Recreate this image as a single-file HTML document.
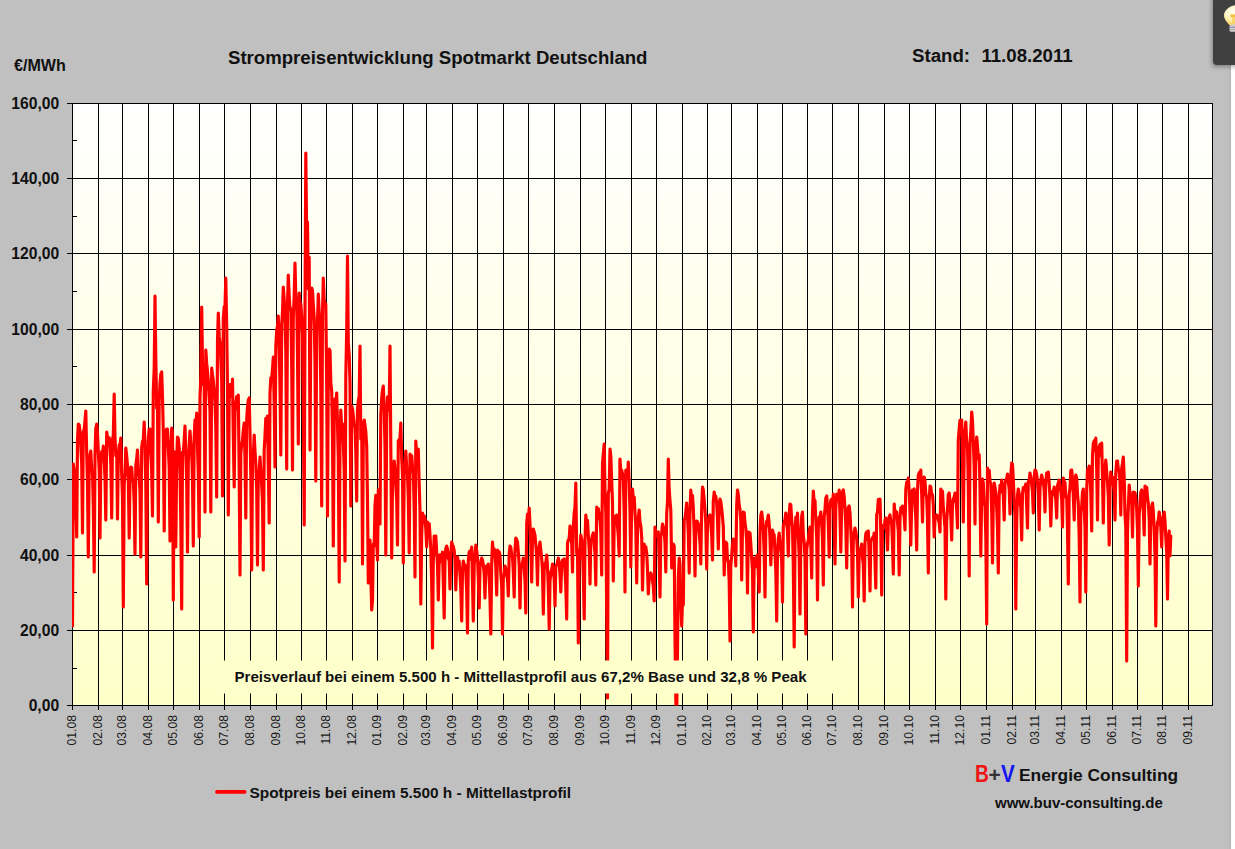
<!DOCTYPE html>
<html><head><meta charset="utf-8"><title>Strompreisentwicklung Spotmarkt Deutschland</title>
<style>
html,body{margin:0;padding:0}
body{width:1235px;height:849px;position:relative;overflow:hidden;background:#c0c0c0;font-family:"Liberation Sans",sans-serif;color:#111}
.t{position:absolute;white-space:nowrap;font-weight:bold;line-height:1}
.yl{position:absolute;left:0;width:59.2px;text-align:right;font-weight:bold;font-size:15.7px;line-height:16px;height:16px;color:#111}
.xl{position:absolute;font-size:12.2px;line-height:12px;height:12px;width:40px;text-align:right;color:#181818;transform-origin:0 0;transform:rotate(-90deg);white-space:nowrap}
#strip{position:absolute;left:1231px;top:64px;width:4px;height:785px;background:#fff}
#edge{position:absolute;left:1228px;top:64px;width:3px;height:785px;background:linear-gradient(to right,#c0c0c0,#b4b4b4)}
#panel{position:absolute;left:1213px;top:-4px;width:30px;height:68.6px;background:#404040;border-radius:0 0 0 4px;box-shadow:-1px 2px 4px rgba(0,0,0,.32)}
</style></head><body>

<svg width="1235" height="849" viewBox="0 0 1235 849" style="position:absolute;left:0;top:0">
<defs><linearGradient id="pg" x1="0" y1="0" x2="0" y2="1"><stop offset="0" stop-color="#ffffff"/><stop offset="1" stop-color="#ffffc9"/></linearGradient><clipPath id="pc"><rect x="72" y="103" width="1141" height="602.6"/></clipPath><radialGradient id="bg" cx="0.35" cy="0.3" r="0.8"><stop offset="0" stop-color="#fffdf0"/><stop offset="0.55" stop-color="#fff0b0"/><stop offset="1" stop-color="#f2c040"/></radialGradient></defs>
<rect x="72" y="103" width="1141" height="602" fill="url(#pg)"/>
<g stroke="#000" stroke-width="1" shape-rendering="crispEdges"><line x1="72.5" y1="103" x2="72.5" y2="710"/><line x1="98.5" y1="103" x2="98.5" y2="710"/><line x1="122.5" y1="103" x2="122.5" y2="710"/><line x1="148.5" y1="103" x2="148.5" y2="710"/><line x1="173.5" y1="103" x2="173.5" y2="710"/><line x1="199.5" y1="103" x2="199.5" y2="710"/><line x1="224.5" y1="103" x2="224.5" y2="710"/><line x1="250.5" y1="103" x2="250.5" y2="710"/><line x1="276.5" y1="103" x2="276.5" y2="710"/><line x1="301.5" y1="103" x2="301.5" y2="710"/><line x1="326.5" y1="103" x2="326.5" y2="710"/><line x1="352.5" y1="103" x2="352.5" y2="710"/><line x1="377.5" y1="103" x2="377.5" y2="710"/><line x1="403.5" y1="103" x2="403.5" y2="710"/><line x1="426.5" y1="103" x2="426.5" y2="710"/><line x1="452.5" y1="103" x2="452.5" y2="710"/><line x1="477.5" y1="103" x2="477.5" y2="710"/><line x1="503.5" y1="103" x2="503.5" y2="710"/><line x1="528.5" y1="103" x2="528.5" y2="710"/><line x1="554.5" y1="103" x2="554.5" y2="710"/><line x1="580.5" y1="103" x2="580.5" y2="710"/><line x1="605.5" y1="103" x2="605.5" y2="710"/><line x1="631.5" y1="103" x2="631.5" y2="710"/><line x1="656.5" y1="103" x2="656.5" y2="710"/><line x1="682.5" y1="103" x2="682.5" y2="710"/><line x1="707.5" y1="103" x2="707.5" y2="710"/><line x1="731.5" y1="103" x2="731.5" y2="710"/><line x1="757.5" y1="103" x2="757.5" y2="710"/><line x1="782.5" y1="103" x2="782.5" y2="710"/><line x1="807.5" y1="103" x2="807.5" y2="710"/><line x1="832.5" y1="103" x2="832.5" y2="710"/><line x1="858.5" y1="103" x2="858.5" y2="710"/><line x1="884.5" y1="103" x2="884.5" y2="710"/><line x1="909.5" y1="103" x2="909.5" y2="710"/><line x1="935.5" y1="103" x2="935.5" y2="710"/><line x1="960.5" y1="103" x2="960.5" y2="710"/><line x1="986.5" y1="103" x2="986.5" y2="710"/><line x1="1012.5" y1="103" x2="1012.5" y2="710"/><line x1="1035.5" y1="103" x2="1035.5" y2="710"/><line x1="1061.5" y1="103" x2="1061.5" y2="710"/><line x1="1086.5" y1="103" x2="1086.5" y2="710"/><line x1="1112.5" y1="103" x2="1112.5" y2="710"/><line x1="1137.5" y1="103" x2="1137.5" y2="710"/><line x1="1162.5" y1="103" x2="1162.5" y2="710"/><line x1="1188.5" y1="103" x2="1188.5" y2="710"/><line x1="67" y1="103.5" x2="1213" y2="103.5"/><line x1="67" y1="178.5" x2="1213" y2="178.5"/><line x1="67" y1="253.5" x2="1213" y2="253.5"/><line x1="67" y1="329.5" x2="1213" y2="329.5"/><line x1="67" y1="404.5" x2="1213" y2="404.5"/><line x1="67" y1="479.5" x2="1213" y2="479.5"/><line x1="67" y1="555.5" x2="1213" y2="555.5"/><line x1="67" y1="630.5" x2="1213" y2="630.5"/><line x1="67" y1="705.5" x2="1213" y2="705.5"/><line x1="72" y1="140.5" x2="77" y2="140.5"/><line x1="72" y1="216.5" x2="77" y2="216.5"/><line x1="72" y1="291.5" x2="77" y2="291.5"/><line x1="72" y1="366.5" x2="77" y2="366.5"/><line x1="72" y1="442.5" x2="77" y2="442.5"/><line x1="72" y1="517.5" x2="77" y2="517.5"/><line x1="72" y1="592.5" x2="77" y2="592.5"/><line x1="72" y1="668.5" x2="77" y2="668.5"/></g><line x1="1212.5" y1="103" x2="1212.5" y2="706" stroke="#000" stroke-width="1" shape-rendering="crispEdges"/>
<polyline clip-path="url(#pc)" fill="none" stroke="#ff0000" stroke-width="3.15" stroke-linejoin="round" stroke-linecap="round" points="72.5,626.0 73.3,464.0 74.2,470.0 75.0,480.0 75.8,500.0 76.7,537.0 77.5,440.4 78.3,424.0 79.2,425.1 80.0,430.8 80.8,446.8 81.7,463.5 82.5,533.0 83.3,432.0 84.2,429.6 85.0,420.9 85.8,411.0 86.7,452.9 87.5,483.2 88.3,557.0 89.2,468.0 90.0,454.9 90.8,451.0 91.7,470.9 92.5,472.2 93.3,506.1 94.2,572.0 95.0,456.1 95.8,428.3 96.7,424.0 97.5,433.0 98.3,452.0 99.2,469.2 100.0,538.0 100.8,464.7 101.7,451.7 102.5,456.2 103.3,446.0 104.2,459.6 105.0,478.2 105.8,520.0 106.7,432.0 107.5,437.3 108.3,444.1 109.2,437.7 110.0,449.9 110.8,463.6 111.7,518.0 112.5,439.3 113.3,435.4 114.2,394.0 115.0,437.8 115.8,455.6 116.7,452.1 117.5,519.0 118.3,455.9 119.2,444.8 120.0,447.5 120.8,438.0 121.7,474.6 122.5,497.3 123.3,607.0 124.2,484.7 125.0,473.3 125.8,448.0 126.7,456.1 127.5,466.4 128.3,479.0 129.2,538.0 130.0,478.6 130.8,467.0 131.7,467.6 132.5,480.7 133.3,481.6 134.2,502.7 135.0,554.0 135.8,465.7 136.7,458.6 137.5,450.0 138.3,468.6 139.2,478.3 140.0,491.7 140.8,557.0 141.7,447.7 142.5,441.4 143.3,440.1 144.2,422.0 145.0,450.3 145.8,483.9 146.7,584.0 147.5,463.5 148.3,437.8 149.2,429.1 150.0,429.0 150.8,446.5 151.7,473.5 152.5,516.0 153.3,391.1 154.2,367.8 155.0,296.0 155.8,358.7 156.7,408.1 157.5,408.4 158.3,522.0 159.2,401.2 160.0,383.4 160.8,374.2 161.7,372.0 162.5,397.2 163.3,432.0 164.2,531.0 165.0,448.1 165.8,431.8 166.7,429.0 167.5,429.0 168.3,447.4 169.2,467.6 170.0,541.0 170.8,453.5 171.7,428.0 172.5,432.0 173.3,600.0 174.2,451.9 175.0,486.6 175.8,547.0 176.7,459.6 177.5,437.0 178.3,438.3 179.2,448.1 180.0,471.1 180.8,521.1 181.7,609.0 182.5,452.2 183.3,454.0 184.2,439.5 185.0,426.0 185.8,454.5 186.7,480.8 187.5,552.0 188.3,462.6 189.2,445.2 190.0,431.0 190.8,442.7 191.7,450.9 192.5,481.1 193.3,546.0 194.2,437.8 195.0,419.8 195.8,428.1 196.7,413.0 197.5,446.4 198.3,473.4 199.2,537.0 200.0,397.1 200.8,378.9 201.7,307.0 202.5,363.2 203.3,383.7 204.2,386.3 205.0,512.0 205.8,350.0 206.7,363.4 207.5,371.3 208.3,380.5 209.2,396.0 210.0,411.5 210.8,512.0 211.7,368.0 212.5,375.0 213.3,380.6 214.2,390.7 215.0,402.5 215.8,427.0 216.7,497.0 217.5,340.9 218.3,313.0 219.2,336.4 220.0,342.2 220.8,359.7 221.7,381.1 222.5,496.0 223.3,318.7 224.2,306.8 225.0,307.7 225.8,278.0 226.7,326.9 227.5,389.5 228.3,515.0 229.2,400.5 230.0,384.6 230.8,396.2 231.7,396.6 232.5,379.0 233.3,434.8 234.2,487.0 235.0,412.4 235.8,403.9 236.7,396.7 237.5,404.4 238.3,395.0 239.2,473.3 240.0,575.0 240.8,453.5 241.7,444.6 242.5,440.6 243.3,430.6 244.2,423.0 245.0,459.4 245.8,518.0 246.7,419.2 247.5,407.4 248.3,400.2 249.2,398.0 250.0,432.3 250.8,474.5 251.7,570.0 252.5,461.8 253.3,455.0 254.2,435.0 255.0,451.2 255.8,464.0 256.7,489.5 257.5,565.0 258.3,472.2 259.2,471.2 260.0,457.0 260.8,470.1 261.7,485.4 262.5,502.1 263.3,570.0 264.2,449.5 265.0,436.0 265.8,418.3 266.7,429.7 267.5,416.0 268.3,467.3 269.2,523.0 270.0,393.3 270.8,378.0 271.7,378.2 272.5,369.3 273.3,357.0 274.2,404.5 275.0,467.0 275.8,346.7 276.7,330.3 277.5,326.1 278.3,316.0 279.2,350.5 280.0,386.8 280.8,455.0 281.7,323.7 282.5,312.5 283.3,287.0 284.2,299.6 285.0,317.4 285.8,351.3 286.7,469.0 287.5,304.1 288.3,275.0 289.2,296.3 290.0,309.2 290.8,308.5 291.7,364.5 292.5,470.0 293.3,317.6 294.2,295.2 295.0,263.0 295.8,296.2 296.7,300.2 297.5,356.8 298.3,444.0 299.2,293.0 300.0,305.1 300.8,303.9 301.7,315.6 302.5,334.2 303.3,402.0 304.2,525.0 305.0,315.8 305.8,153.0 306.7,235.8 307.5,222.0 308.3,288.8 309.2,257.4 310.0,450.0 310.8,328.6 311.7,288.0 312.5,290.4 313.3,304.8 314.2,318.0 315.0,363.0 315.8,481.0 316.7,331.2 317.5,321.6 318.3,294.0 319.2,312.3 320.0,330.2 320.8,387.9 321.7,506.0 322.5,312.8 323.3,278.0 324.2,300.0 325.0,304.1 325.8,304.0 326.7,386.1 327.5,516.0 328.3,374.3 329.2,349.0 330.0,350.6 330.8,382.6 331.7,391.1 332.5,435.6 333.3,546.0 334.2,420.2 335.0,398.8 335.8,404.3 336.7,393.0 337.5,424.2 338.3,459.0 339.2,582.0 340.0,441.6 340.8,410.0 341.7,428.3 342.5,423.7 343.3,443.2 344.2,470.8 345.0,561.0 345.8,376.5 346.7,329.9 347.5,256.0 348.3,342.8 349.2,355.1 350.0,383.1 350.8,506.0 351.7,406.0 352.5,409.0 353.3,415.7 354.2,424.3 355.0,427.9 355.8,451.7 356.7,501.0 357.5,409.2 358.3,401.3 359.2,395.4 360.0,346.0 360.8,439.0 361.7,422.3 362.5,564.0 363.3,441.6 364.2,420.0 365.0,425.2 365.8,431.9 366.7,446.4 367.5,501.0 368.3,583.0 369.2,547.7 370.0,540.0 370.8,575.0 371.7,610.0 372.5,600.0 373.3,543.9 374.2,546.0 375.0,505.5 375.8,495.4 376.7,540.0 377.5,560.0 378.3,490.0 379.2,501.6 380.0,524.0 380.8,414.5 381.7,398.5 382.5,389.9 383.3,386.0 384.2,411.5 385.0,446.2 385.8,555.0 386.7,422.5 387.5,396.8 388.3,400.9 389.2,410.1 390.0,346.0 390.8,446.7 391.7,558.0 392.5,484.3 393.3,474.9 394.2,461.0 395.0,469.0 395.8,485.2 396.7,500.5 397.5,545.0 398.3,440.8 399.2,439.7 400.0,438.2 400.8,423.0 401.7,458.4 402.5,474.1 403.3,563.0 404.2,474.6 405.0,466.3 405.8,451.0 406.7,467.9 407.5,474.6 408.3,498.2 409.2,553.0 410.0,454.0 410.8,456.4 411.7,455.8 412.5,466.4 413.3,474.3 414.2,508.2 415.0,577.0 415.8,441.0 416.7,456.7 417.5,450.3 418.3,449.2 419.2,483.7 420.0,511.2 420.8,604.0 421.7,534.1 422.5,513.0 423.3,522.4 424.2,515.9 425.0,518.5 425.8,529.0 426.7,547.0 427.5,522.0 428.3,525.9 429.2,523.7 430.0,535.0 430.8,549.3 431.7,582.2 432.5,648.0 433.3,561.8 434.2,536.0 435.0,538.3 435.8,536.0 436.7,552.3 437.5,564.3 438.3,600.0 439.2,559.1 440.0,554.8 440.8,556.5 441.7,561.7 442.5,552.0 443.3,580.6 444.2,618.0 445.0,560.8 445.8,548.6 446.7,546.0 447.5,549.3 448.3,558.3 449.2,560.8 450.0,589.0 450.8,554.0 451.7,542.0 452.5,545.0 453.3,546.2 454.2,550.6 455.0,560.1 455.8,590.0 456.7,562.3 457.5,557.0 458.3,561.4 459.2,561.4 460.0,573.9 460.8,589.0 461.7,621.0 462.5,571.3 463.3,561.0 464.2,565.1 465.0,564.9 465.8,571.8 466.7,591.3 467.5,633.0 468.3,560.7 469.2,552.0 470.0,550.8 470.8,559.4 471.7,547.0 472.5,583.3 473.3,621.0 474.2,565.5 475.0,554.1 475.8,545.0 476.7,550.7 477.5,557.7 478.3,577.7 479.2,608.0 480.0,567.5 480.8,562.0 481.7,558.0 482.5,560.3 483.3,564.6 484.2,573.7 485.0,598.0 485.8,569.9 486.7,565.9 487.5,566.4 488.3,564.0 489.2,578.2 490.0,598.9 490.8,634.0 491.7,563.0 492.5,542.0 493.3,554.1 494.2,548.7 495.0,555.3 495.8,567.0 496.7,595.0 497.5,550.0 498.3,555.0 499.2,551.8 500.0,554.8 500.8,573.5 501.7,585.7 502.5,634.0 503.3,578.4 504.2,574.4 505.0,566.0 505.8,568.6 506.7,573.3 507.5,579.2 508.3,596.0 509.2,554.2 510.0,546.0 510.8,547.5 511.7,555.0 512.5,557.2 513.3,571.7 514.2,597.0 515.0,550.0 515.8,538.0 516.7,539.6 517.5,542.4 518.3,551.9 519.2,564.8 520.0,608.0 520.8,569.0 521.7,565.2 522.5,563.2 523.3,558.0 524.2,569.4 525.0,580.4 525.8,613.0 526.7,523.6 527.5,514.2 528.3,522.2 529.2,508.0 530.0,524.3 530.8,544.7 531.7,582.0 532.5,538.4 533.3,529.0 534.2,532.0 535.0,535.3 535.8,544.9 536.7,556.8 537.5,585.0 538.3,548.2 539.2,547.1 540.0,542.0 540.8,550.4 541.7,558.7 542.5,571.6 543.3,614.0 544.2,570.1 545.0,563.2 545.8,563.0 546.7,555.0 547.5,567.2 548.3,587.1 549.2,629.0 550.0,581.7 550.8,571.9 551.7,569.9 552.5,564.0 553.3,573.0 554.2,578.6 555.0,606.0 555.8,566.3 556.7,565.1 557.5,562.3 558.3,558.0 559.2,563.7 560.0,573.5 560.8,592.0 561.7,564.1 562.5,560.0 563.3,561.4 564.2,559.0 565.0,571.3 565.8,585.9 566.7,619.0 567.5,542.9 568.3,540.0 569.2,538.5 570.0,526.0 570.8,538.6 571.7,543.6 572.5,572.0 573.3,527.0 574.2,513.1 575.0,506.4 575.8,483.0 576.7,553.4 577.5,549.5 578.3,643.0 579.2,560.2 580.0,551.1 580.8,535.0 581.7,539.6 582.5,551.6 583.3,573.9 584.2,619.0 585.0,541.2 585.8,515.0 586.7,522.4 587.5,520.4 588.3,534.7 589.2,548.6 590.0,584.0 590.8,541.7 591.7,539.4 592.5,535.1 593.3,533.0 594.2,544.4 595.0,552.8 595.8,585.0 596.7,507.0 597.5,518.9 598.3,508.6 599.2,514.1 600.0,519.2 600.8,531.9 601.7,575.0 602.5,463.4 603.3,453.8 604.2,444.0 605.0,491.2 605.8,512.7 606.7,612.0 607.5,698.0 608.3,493.3 609.2,489.3 610.0,449.0 610.8,456.2 611.7,481.1 612.5,502.8 613.3,581.0 614.2,525.8 615.0,516.3 615.8,517.6 616.7,515.0 617.5,526.6 618.3,536.1 619.2,556.0 620.0,459.0 620.8,472.1 621.7,470.2 622.5,473.7 623.3,479.9 624.2,513.1 625.0,592.0 625.8,470.0 626.7,471.2 627.5,478.3 628.3,462.0 629.2,483.8 630.0,512.2 630.8,567.0 631.7,500.3 632.5,489.0 633.3,499.0 634.2,497.1 635.0,512.9 635.8,526.7 636.7,583.0 637.5,530.0 638.3,517.8 639.2,510.0 640.0,522.0 640.8,525.5 641.7,537.3 642.5,590.0 643.3,556.3 644.2,544.0 645.0,550.1 645.8,546.7 646.7,553.1 647.5,569.6 648.3,594.0 649.2,577.1 650.0,574.2 650.8,573.0 651.7,576.3 652.5,580.8 653.3,586.6 654.2,601.0 655.0,527.0 655.8,536.5 656.7,533.3 657.5,533.7 658.3,532.0 659.2,560.7 660.0,597.0 660.8,536.2 661.7,533.2 662.5,524.0 663.3,526.8 664.2,531.4 665.0,543.1 665.8,572.0 666.7,513.7 667.5,501.7 668.3,459.0 669.2,489.7 670.0,500.8 670.8,510.0 671.7,568.0 672.5,548.1 673.3,544.0 674.2,546.1 675.0,640.0 675.8,700.0 676.7,716.0 677.5,650.0 678.3,579.1 679.2,558.0 680.0,564.5 680.8,600.0 681.7,626.0 682.5,600.0 683.3,605.0 684.2,520.3 685.0,518.4 685.8,511.7 686.7,503.0 687.5,517.4 688.3,533.2 689.2,573.0 690.0,511.0 690.8,490.0 691.7,501.5 692.5,495.5 693.3,508.6 694.2,532.3 695.0,576.0 695.8,529.0 696.7,521.0 697.5,521.9 698.3,524.3 699.2,533.3 700.0,542.8 700.8,564.0 701.7,507.1 702.5,487.0 703.3,489.8 704.2,500.0 705.0,510.2 705.8,523.7 706.7,569.0 707.5,524.2 708.3,518.9 709.2,516.1 710.0,515.0 710.8,523.4 711.7,535.6 712.5,560.0 713.3,501.6 714.2,492.0 715.0,498.5 715.8,496.3 716.7,503.0 717.5,519.5 718.3,549.0 719.2,506.4 720.0,499.0 720.8,501.8 721.7,508.7 722.5,517.2 723.3,527.1 724.2,575.0 725.0,548.5 725.8,542.0 726.7,543.4 727.5,560.2 728.3,561.2 729.2,582.0 730.0,641.0 730.8,565.6 731.7,555.3 732.5,544.2 733.3,539.0 734.2,545.8 735.0,548.2 735.8,566.0 736.7,505.1 737.5,490.0 738.3,494.3 739.2,505.6 740.0,509.3 740.8,520.8 741.7,580.0 742.5,527.6 743.3,512.0 744.2,512.8 745.0,523.1 745.8,528.4 746.7,541.7 747.5,593.0 748.3,532.0 749.2,541.1 750.0,532.9 750.8,543.9 751.7,558.3 752.5,569.6 753.3,632.0 754.2,558.0 755.0,567.1 755.8,560.2 756.7,557.1 757.5,555.0 758.3,573.6 759.2,592.0 760.0,532.4 760.8,515.4 761.7,512.0 762.5,518.9 763.3,529.6 764.2,553.6 765.0,597.0 765.8,529.0 766.7,521.2 767.5,520.9 768.3,515.0 769.2,523.4 770.0,538.5 770.8,565.0 771.7,535.1 772.5,530.0 773.3,533.7 774.2,535.0 775.0,554.3 775.8,570.8 776.7,621.0 777.5,553.0 778.3,538.5 779.2,533.0 780.0,542.1 780.8,547.5 781.7,562.0 782.5,602.0 783.3,525.8 784.2,522.5 785.0,519.1 785.8,513.0 786.7,524.0 787.5,531.2 788.3,556.0 789.2,514.7 790.0,504.0 790.8,504.9 791.7,519.8 792.5,527.3 793.3,565.8 794.2,647.0 795.0,543.7 795.8,517.2 796.7,526.8 797.5,513.0 798.3,535.4 799.2,556.5 800.0,614.0 800.8,539.9 801.7,516.0 802.5,512.0 803.3,535.1 804.2,542.8 805.0,557.7 805.8,634.0 806.7,549.3 807.5,543.5 808.3,540.7 809.2,530.7 810.0,527.0 810.8,544.9 811.7,578.0 812.5,512.4 813.3,491.0 814.2,501.9 815.0,500.6 815.8,519.8 816.7,537.9 817.5,600.0 818.3,526.9 819.2,517.0 820.0,518.2 820.8,512.0 821.7,523.3 822.5,538.9 823.3,585.0 824.2,516.9 825.0,508.9 825.8,498.1 826.7,496.0 827.5,506.1 828.3,523.7 829.2,557.0 830.0,510.5 830.8,500.2 831.7,499.1 832.5,506.1 833.3,494.0 834.2,525.7 835.0,564.0 835.8,508.6 836.7,494.2 837.5,500.3 838.3,498.1 839.2,490.0 840.0,516.0 840.8,552.0 841.7,505.1 842.5,491.7 843.3,490.0 844.2,496.7 845.0,508.7 845.8,524.7 846.7,568.0 847.5,517.4 848.3,507.3 849.2,506.0 850.0,513.2 850.8,529.9 851.7,549.7 852.5,607.0 853.3,540.5 854.2,532.1 855.0,528.0 855.8,531.7 856.7,538.4 857.5,552.8 858.3,597.0 859.2,553.1 860.0,549.4 860.8,548.4 861.7,544.0 862.5,557.5 863.3,564.8 864.2,601.0 865.0,543.2 865.8,533.9 866.7,531.9 867.5,539.4 868.3,531.0 869.2,555.7 870.0,591.0 870.8,541.2 871.7,539.4 872.5,537.6 873.3,538.4 874.2,533.0 875.0,561.0 875.8,588.0 876.7,514.6 877.5,512.0 878.3,499.5 879.2,510.9 880.0,499.0 880.8,532.6 881.7,595.0 882.5,528.9 883.3,525.5 884.2,528.1 885.0,520.2 885.8,518.0 886.7,531.8 887.5,550.0 888.3,523.9 889.2,516.6 890.0,515.0 890.8,520.4 891.7,524.3 892.5,543.4 893.3,574.0 894.2,504.0 895.0,513.7 895.8,511.3 896.7,512.2 897.5,522.0 898.3,531.0 899.2,575.0 900.0,517.9 900.8,507.8 901.7,509.2 902.5,506.0 903.3,511.9 904.2,517.2 905.0,530.0 905.8,489.3 906.7,482.2 907.5,483.7 908.3,478.0 909.2,490.5 910.0,512.4 910.8,545.0 911.7,503.7 912.5,490.2 913.3,491.0 914.2,489.0 915.0,504.5 915.8,517.9 916.7,550.0 917.5,491.1 918.3,475.3 919.2,472.7 920.0,479.2 920.8,470.0 921.7,493.9 922.5,522.0 923.3,486.3 924.2,477.0 925.0,481.4 925.8,493.3 926.7,497.3 927.5,519.5 928.3,573.0 929.2,500.8 930.0,486.0 930.8,486.9 931.7,495.1 932.5,494.7 933.3,504.3 934.2,537.0 935.0,519.1 935.8,515.9 936.7,515.0 937.5,515.9 938.3,519.2 939.2,522.9 940.0,532.0 940.8,489.0 941.7,493.4 942.5,491.2 943.3,507.1 944.2,518.1 945.0,527.7 945.8,599.0 946.7,521.4 947.5,509.1 948.3,494.6 949.2,493.0 950.0,500.8 950.8,516.2 951.7,540.0 952.5,503.8 953.3,499.4 954.2,497.2 955.0,493.0 955.8,498.7 956.7,509.7 957.5,528.0 958.3,439.9 959.2,428.6 960.0,420.3 960.8,428.8 961.7,420.0 962.5,461.4 963.3,522.0 964.2,449.5 965.0,431.1 965.8,422.0 966.7,443.0 967.5,445.8 968.3,486.5 969.2,576.0 970.0,442.9 970.8,431.5 971.7,412.0 972.5,421.0 973.3,442.3 974.2,466.6 975.0,524.0 975.8,449.2 976.7,437.0 977.5,446.3 978.3,459.2 979.2,454.9 980.0,488.0 980.8,556.0 981.7,491.8 982.5,479.0 983.3,482.7 984.2,503.1 985.0,506.0 985.8,535.7 986.7,624.0 987.5,468.0 988.3,482.0 989.2,470.4 990.0,481.2 990.8,483.3 991.7,512.2 992.5,563.0 993.3,501.2 994.2,483.0 995.0,487.5 995.8,492.5 996.7,507.7 997.5,528.0 998.3,573.0 999.2,495.7 1000.0,485.3 1000.8,491.7 1001.7,480.0 1002.5,488.1 1003.3,495.3 1004.2,520.0 1005.0,483.9 1005.8,479.8 1006.7,478.8 1007.5,474.0 1008.3,482.0 1009.2,488.7 1010.0,514.0 1010.8,474.9 1011.7,463.0 1012.5,464.2 1013.3,479.3 1014.2,500.7 1015.0,516.0 1015.8,609.0 1016.7,520.7 1017.5,495.4 1018.3,489.0 1019.2,493.7 1020.0,501.7 1020.8,507.8 1021.7,540.0 1022.5,493.8 1023.3,487.7 1024.2,488.1 1025.0,487.2 1025.8,484.0 1026.7,506.7 1027.5,528.0 1028.3,481.5 1029.2,481.5 1030.0,473.0 1030.8,477.2 1031.7,484.5 1032.5,491.9 1033.3,513.0 1034.2,477.2 1035.0,470.0 1035.8,470.6 1036.7,474.7 1037.5,482.3 1038.3,494.7 1039.2,530.0 1040.0,488.0 1040.8,480.0 1041.7,475.0 1042.5,479.2 1043.3,481.3 1044.2,490.3 1045.0,512.0 1045.8,482.7 1046.7,473.0 1047.5,475.2 1048.3,472.0 1049.2,483.3 1050.0,497.4 1050.8,526.0 1051.7,496.7 1052.5,491.6 1053.3,491.7 1054.2,487.0 1055.0,494.4 1055.8,499.3 1056.7,518.0 1057.5,485.8 1058.3,483.0 1059.2,480.0 1060.0,487.0 1060.8,491.2 1061.7,499.6 1062.5,527.0 1063.3,478.0 1064.2,481.8 1065.0,482.6 1065.8,497.1 1066.7,496.6 1067.5,528.9 1068.3,584.0 1069.2,493.8 1070.0,487.8 1070.8,470.6 1071.7,470.0 1072.5,478.6 1073.3,495.5 1074.2,520.0 1075.0,481.9 1075.8,475.0 1076.7,478.4 1077.5,494.1 1078.3,503.2 1079.2,537.1 1080.0,602.0 1080.8,511.3 1081.7,506.3 1082.5,492.3 1083.3,489.0 1084.2,510.1 1085.0,526.3 1085.8,592.0 1086.7,489.9 1087.5,469.5 1088.3,470.8 1089.2,466.0 1090.0,475.9 1090.8,493.0 1091.7,531.0 1092.5,455.6 1093.3,443.3 1094.2,440.9 1095.0,450.6 1095.8,438.0 1096.7,469.1 1097.5,520.0 1098.3,458.0 1099.2,446.8 1100.0,444.4 1100.8,455.7 1101.7,443.0 1102.5,477.0 1103.3,523.0 1104.2,470.8 1105.0,469.8 1105.8,460.0 1106.7,471.9 1107.5,482.5 1108.3,496.1 1109.2,545.0 1110.0,487.8 1110.8,472.0 1111.7,480.5 1112.5,476.8 1113.3,484.9 1114.2,491.6 1115.0,520.0 1115.8,472.8 1116.7,461.0 1117.5,461.0 1118.3,469.2 1119.2,471.2 1120.0,482.3 1120.8,515.0 1121.7,468.6 1122.5,463.3 1123.3,457.0 1124.2,477.6 1125.0,514.1 1125.8,528.5 1126.7,661.0 1127.5,532.0 1128.3,507.8 1129.2,485.0 1130.0,493.7 1130.8,497.4 1131.7,502.8 1132.5,537.0 1133.3,492.0 1134.2,494.5 1135.0,492.6 1135.8,498.6 1136.7,509.2 1137.5,529.8 1138.3,586.0 1139.2,515.6 1140.0,502.6 1140.8,492.3 1141.7,490.0 1142.5,500.6 1143.3,510.7 1144.2,535.0 1145.0,486.0 1145.8,492.7 1146.7,487.4 1147.5,497.5 1148.3,503.5 1149.2,518.7 1150.0,564.0 1150.8,516.3 1151.7,506.5 1152.5,503.0 1153.3,511.5 1154.2,529.9 1155.0,555.2 1155.8,626.0 1156.7,535.8 1157.5,522.2 1158.3,520.6 1159.2,512.0 1160.0,517.3 1160.8,526.8 1161.7,547.0 1162.5,520.2 1163.3,516.8 1164.2,512.0 1165.0,521.5 1165.8,536.8 1166.7,551.6 1167.5,599.0 1168.3,540.8 1169.2,531.0 1170.0,556.0 1170.8,536.0"/>
<rect x="221" y="660.5" width="623" height="33" fill="#ffffcc"/>
<line x1="217" y1="791.9" x2="244.6" y2="791.9" stroke="#ff0000" stroke-width="3.8" stroke-linecap="round"/>
</svg>
<div class="yl" style="top:96.0px">160,00</div>
<div class="yl" style="top:171.0px">140,00</div>
<div class="yl" style="top:246.0px">120,00</div>
<div class="yl" style="top:322.0px">100,00</div>
<div class="yl" style="top:397.0px">80,00</div>
<div class="yl" style="top:472.0px">60,00</div>
<div class="yl" style="top:548.0px">40,00</div>
<div class="yl" style="top:623.0px">20,00</div>
<div class="yl" style="top:698.0px">0,00</div>
<div class="xl" style="left:66.2px;top:755.1px">01.08</div>
<div class="xl" style="left:92.2px;top:755.1px">02.08</div>
<div class="xl" style="left:116.2px;top:755.1px">03.08</div>
<div class="xl" style="left:142.2px;top:755.1px">04.08</div>
<div class="xl" style="left:167.2px;top:755.1px">05.08</div>
<div class="xl" style="left:193.2px;top:755.1px">06.08</div>
<div class="xl" style="left:218.2px;top:755.1px">07.08</div>
<div class="xl" style="left:244.2px;top:755.1px">08.08</div>
<div class="xl" style="left:270.2px;top:755.1px">09.08</div>
<div class="xl" style="left:295.2px;top:755.1px">10.08</div>
<div class="xl" style="left:320.2px;top:755.1px">11.08</div>
<div class="xl" style="left:346.2px;top:755.1px">12.08</div>
<div class="xl" style="left:371.2px;top:755.1px">01.09</div>
<div class="xl" style="left:397.2px;top:755.1px">02.09</div>
<div class="xl" style="left:420.2px;top:755.1px">03.09</div>
<div class="xl" style="left:446.2px;top:755.1px">04.09</div>
<div class="xl" style="left:471.2px;top:755.1px">05.09</div>
<div class="xl" style="left:497.2px;top:755.1px">06.09</div>
<div class="xl" style="left:522.2px;top:755.1px">07.09</div>
<div class="xl" style="left:548.2px;top:755.1px">08.09</div>
<div class="xl" style="left:574.2px;top:755.1px">09.09</div>
<div class="xl" style="left:599.2px;top:755.1px">10.09</div>
<div class="xl" style="left:625.2px;top:755.1px">11.09</div>
<div class="xl" style="left:650.2px;top:755.1px">12.09</div>
<div class="xl" style="left:676.2px;top:755.1px">01.10</div>
<div class="xl" style="left:701.2px;top:755.1px">02.10</div>
<div class="xl" style="left:725.2px;top:755.1px">03.10</div>
<div class="xl" style="left:751.2px;top:755.1px">04.10</div>
<div class="xl" style="left:776.2px;top:755.1px">05.10</div>
<div class="xl" style="left:801.2px;top:755.1px">06.10</div>
<div class="xl" style="left:826.2px;top:755.1px">07.10</div>
<div class="xl" style="left:852.2px;top:755.1px">08.10</div>
<div class="xl" style="left:878.2px;top:755.1px">09.10</div>
<div class="xl" style="left:903.2px;top:755.1px">10.10</div>
<div class="xl" style="left:929.2px;top:755.1px">11.10</div>
<div class="xl" style="left:954.2px;top:755.1px">12.10</div>
<div class="xl" style="left:980.2px;top:755.1px">01.11</div>
<div class="xl" style="left:1006.2px;top:755.1px">02.11</div>
<div class="xl" style="left:1029.2px;top:755.1px">03.11</div>
<div class="xl" style="left:1055.2px;top:755.1px">04.11</div>
<div class="xl" style="left:1080.2px;top:755.1px">05.11</div>
<div class="xl" style="left:1106.2px;top:755.1px">06.11</div>
<div class="xl" style="left:1131.2px;top:755.1px">07.11</div>
<div class="xl" style="left:1156.2px;top:755.1px">08.11</div>
<div class="xl" style="left:1182.2px;top:755.1px">09.11</div>
<div class="t" style="left:14px;top:57px;font-size:16.1px">€/MWh</div>
<div class="t" id="title" style="left:228px;top:48.6px;font-size:18.6px">Strompreisentwicklung Spotmarkt Deutschland</div>
<div class="t" id="stand" style="left:912px;top:46.5px;font-size:18.67px;white-space:pre;word-spacing:0.5px">Stand:  11.08.2011</div>
<div class="t" id="box" style="left:234.5px;top:669px;font-size:15.1px">Preisverlauf bei einem 5.500 h - Mittellastprofil aus 67,2% Base und 32,8 % Peak</div>
<div class="t" id="leg" style="left:249.5px;top:785px;font-size:15.4px">Spotpreis bei einem 5.500 h - Mittellastprofil</div>
<div class="t" id="bvB" style="left:975.2px;top:761.5px;font-size:24px;color:#f01414;transform-origin:0 50%;transform:scaleX(.80)">B</div>
<div class="t" id="bvP" style="left:988.6px;top:764px;font-size:21px;color:#333">+</div>
<div class="t" id="bvV" style="left:1001.2px;top:761.8px;font-size:24px;color:#1414f0;transform-origin:0 50%;transform:scaleX(.86)">V</div>
<div class="t" id="ec" style="left:1019px;top:766.8px;font-size:17.36px">Energie Consulting</div>
<div class="t" id="www" style="left:995px;top:795px;font-size:15px">www.buv-consulting.de</div>
<div id="edge"></div><div id="strip"></div><div id="panel"><svg width="30" height="68" viewBox="0 0 30 68" style="position:absolute;left:0;top:0"><path d="M24.5 9 C17 9 11 14 11 19.5 C11 23 13.2 25 14.6 27 L16.2 29 L32 29 L34 27 C36 25 38 23 38 19.5 C38 14 31 9 24.5 9 Z" fill="url(#bg)"/><rect x="16.6" y="28.4" width="16" height="7.4" rx="1.6" fill="#d0d0d2"/><rect x="16.6" y="30.6" width="16" height="1.3" fill="#9a8fae"/><rect x="16.6" y="33" width="16" height="1" fill="#aaa"/><rect x="17.4" y="18.6" width="14" height="2.6" rx="1" fill="#f1c040"/><rect x="19" y="21" width="12" height="6.5" fill="#f6cf55" opacity=".75"/></svg></div>
</body></html>
